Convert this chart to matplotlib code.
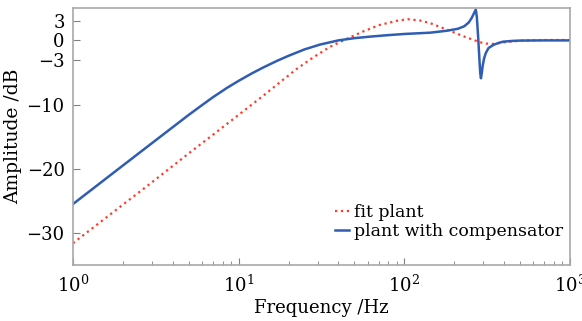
import matplotlib
matplotlib.use("Agg")
import matplotlib.pyplot as plt
from matplotlib.ticker import LogLocator, NullFormatter

# fit plant (red dotted)
fit_freq = [1, 2, 3, 5, 7, 10, 14.1, 18, 22.4, 28, 35.6, 45, 56.5, 71, 90, 105,
            124, 143, 160, 188, 215, 238, 260, 286, 314, 344, 380, 414, 500, 700, 900, 1000]
fit_db = [-31.6, -25.6, -22.1, -17.6, -14.7, -11.6, -8.6, -6.4, -4.45, -2.7, -1.0, 0.25,
          1.4, 2.4, 3.05, 3.3, 3.1, 2.7, 2.2, 1.5, 0.9, 0.45, 0.1, -0.3, -0.5, -0.55,
          -0.4, -0.25, -0.05, 0.05, 0.06, 0.05]

# plant with compensator (blue solid)
comp_freq = [1, 2, 3, 5, 6, 7, 8.5, 10, 12, 14, 17, 20, 25, 31, 40, 50, 63, 80, 100, 143,
             180, 210, 230, 245, 255, 263, 270, 274, 279, 284, 287, 290, 293, 297, 303, 310,
             322, 345, 370, 395, 450, 500, 700, 1000]
comp_db = [-25.5, -19.5, -16.0, -11.6, -10.1, -8.85, -7.4, -6.3, -5.15, -4.25, -3.2, -2.4,
           -1.4, -0.65, 0.0, 0.35, 0.6, 0.82, 1.0, 1.2, 1.5, 1.8, 2.2, 2.8, 3.5, 4.2, 4.8,
           3.6, 0.5, -3.0, -5.0, -5.9, -5.2, -4.0, -2.8, -2.0, -1.2, -0.7, -0.4, -0.2, -0.08,
           -0.03, 0.0, 0.0]

yticks = [3, 0, -3, -10, -20, -30]

plt.rcParams['font.family'] = ['DejaVu Serif']
plt.rcParams['mathtext.fontset'] = 'dejavuserif'

fig = plt.figure(figsize=(5.82, 3.21), dpi=100)
ax = fig.add_axes([73/582, 1-265/321, (570-73)/582, (265-8.3)/321])

ax.plot(fit_freq, fit_db, linestyle=':', color='#ff3b2a', linewidth=1.6, label='fit plant')
ax.plot(comp_freq, comp_db, linestyle='-', color='#2f5db3', linewidth=1.8,
        label='plant with compensator')

ax.set_xscale('log')
ax.set_xlim(1, 1000)
ax.set_ylim(-35, 5)
ax.set_yticks(yticks)
ax.xaxis.set_major_locator(LogLocator(base=10, numticks=10))
ax.xaxis.set_minor_locator(LogLocator(base=10, subs=range(2, 10), numticks=20))
ax.xaxis.set_minor_formatter(NullFormatter())

for s in ax.spines.values():
    s.set_color('#a8a8a8')
    s.set_linewidth(1.2)

ax.tick_params(axis='both', which='both', direction='in', colors='#808080',
               labelcolor='black', labelsize=13)
ax.tick_params(axis='both', which='major', length=5, width=0.8)
ax.tick_params(axis='x', which='minor', length=3, width=0.6)
ax.tick_params(axis='x', which='major', pad=7)
ax.tick_params(axis='y', which='major', pad=6)

ax.set_xlabel('Frequency /Hz', fontsize=13, labelpad=2)
ax.set_ylabel('Amplitude /dB', fontsize=13.5, labelpad=3)

leg = ax.legend(loc='lower right', frameon=False, fontsize=12.5, handlelength=0.8,
                handletextpad=0.3, labelspacing=0.1, borderaxespad=0.0,
                bbox_to_anchor=(1.0, 0.07))

fig.savefig('out.png', dpi=100)
